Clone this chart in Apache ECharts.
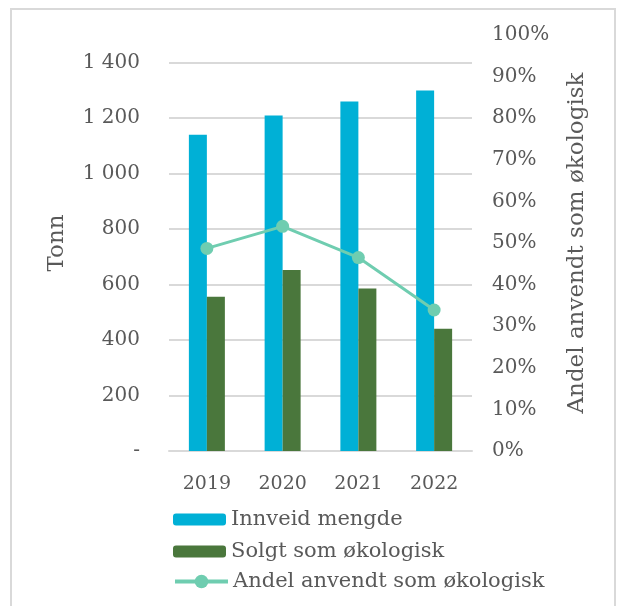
<!DOCTYPE html>
<html>
<head>
<meta charset="utf-8">
<script src="https://cdn.jsdelivr.net/npm/echarts@6/dist/echarts.min.js"></script>
<style>
  html, body { margin: 0; padding: 0; background: #fff; }
  #chart { width: 617px; height: 606px; }
</style>
</head>
<body>
<div id="chart"></div>
<script>
var years = ['2019', '2020', '2021', '2022'];
var innveid = [1140, 1210, 1260, 1300];
var solgt = [556, 653, 586, 441];
var andel = [0.487, 0.54, 0.465, 0.339];

var font = 'DejaVu Serif';
var textColor = '#595959';

var chart = echarts.init(document.getElementById('chart'));

var fmtTonn = function(v){
    if(v == 0){ return '-'; }
    return String(v).replace(/\B(?=(\d{3})+(?!\d))/g, ' ');
};

var legendText = { fontFamily: font, fontSize: 21, color: textColor };

chart.setOption({
    animation: false,
    textStyle: { fontFamily: font, color: textColor },
    graphic: [{
        type: 'rect',
        shape: { x: 11, y: 9, width: 604, height: 610 },
        style: { fill: 'none', stroke: '#d9d9d9', lineWidth: 2 },
        silent: true
    }],
    grid: { left: 169, right: 145, top: 35, bottom: 155 },
    legend: [{
        orient: 'vertical',
        left: 168,
        top: 504,
        itemWidth: 53,
        itemHeight: 12,
        itemGap: 11,
        textStyle: legendText,
        data: ['Innveid mengde', 'Solgt som økologisk']
    }, {
        orient: 'vertical',
        left: 168,
        top: 566,
        itemWidth: 53,
        itemHeight: 17,
        textStyle: legendText,
        lineStyle: { width: 4 },
        data: ['Andel anvendt som økologisk']
    }],
    xAxis: {
        type: 'category',
        data: years,
        axisLine: { lineStyle: { color: '#d9d9d9', width: 2 } },
        axisTick: { show: false },
        axisLabel: { fontFamily: font, fontSize: 19, color: textColor, margin: 24 }
    },
    yAxis: [{
        type: 'value',
        min: 0,
        max: 1500,
        interval: 200,
        name: 'Tonn',
        nameLocation: 'middle',
        nameRotate: 90,
        nameGap: 100,
        nameTextStyle: { fontFamily: font, fontSize: 23, color: textColor },
        axisLine: { show: false },
        axisTick: { show: false },
        splitLine: { showMaxLine: false, lineStyle: { color: '#d9d9d9', width: 2 } },
        axisLabel: {
            fontFamily: font, fontSize: 20, color: textColor, margin: 29,
            showMaxLabel: false,
            formatter: fmtTonn
        }
    }, {
        type: 'value',
        min: 0,
        max: 1,
        interval: 0.1,
        name: 'Andel anvendt som økologisk',
        nameLocation: 'middle',
        nameRotate: 90,
        nameGap: 94,
        nameTextStyle: { fontFamily: font, fontSize: 23, color: textColor },
        axisLine: { show: false },
        axisTick: { show: false },
        splitLine: { show: false },
        axisLabel: {
            fontFamily: font, fontSize: 20, color: textColor, margin: 20,
            formatter: function(v){ return Math.round(v * 100) + '%'; }
        }
    }],
    series: [{
        name: 'Innveid mengde',
        type: 'bar',
        data: innveid,
        barWidth: 18,
        barGap: '0%',
        itemStyle: { color: '#00b0d6' }
    }, {
        name: 'Solgt som økologisk',
        type: 'bar',
        data: solgt,
        barWidth: 18,
        itemStyle: { color: '#4a773c' }
    }, {
        name: 'Andel anvendt som økologisk',
        type: 'line',
        yAxisIndex: 1,
        data: andel,
        symbol: 'circle',
        symbolSize: 13,
        lineStyle: { color: '#6fcdb0', width: 3 },
        itemStyle: { color: '#6fcdb0' }
    }]
});
</script>
</body>
</html>
